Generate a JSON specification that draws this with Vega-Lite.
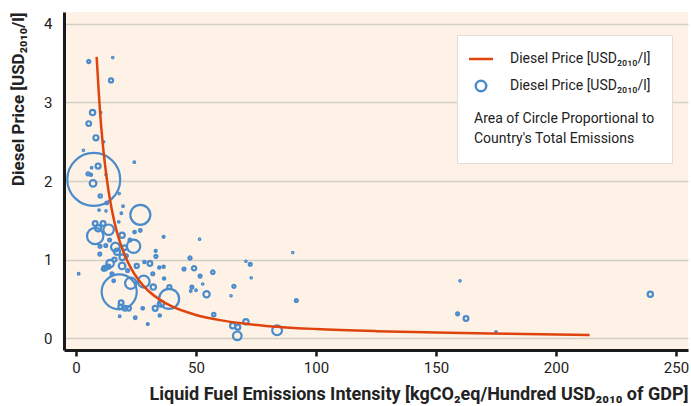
{
  "$schema": "https://vega.github.io/schema/vega-lite/v6.json",
  "width": 624,
  "height": 338,
  "autosize": {"type": "none"},
  "padding": {"left": 64, "top": 12, "right": 3, "bottom": 56},
  "background": "white",
  "config": {
    "font": "Roboto, Liberation Sans, sans-serif",
    "view": {"fill": "#fdf2e5", "stroke": null},
    "axis": {"labelFont": "Roboto, sans-serif", "titleFont": "Roboto, sans-serif", "labelColor": "#222", "titleColor": "#222"}
  },
  "datasets": {
    "curve": [
      {"intensity": 8.6, "price": 3.58}, {"intensity": 9.5, "price": 3.12}, {"intensity": 10, "price": 2.89},
      {"intensity": 11, "price": 2.52}, {"intensity": 12, "price": 2.23}, {"intensity": 13, "price": 1.99},
      {"intensity": 14, "price": 1.79}, {"intensity": 16, "price": 1.48}, {"intensity": 18, "price": 1.25},
      {"intensity": 20, "price": 1.08}, {"intensity": 23, "price": 0.885}, {"intensity": 26, "price": 0.744},
      {"intensity": 30, "price": 0.607}, {"intensity": 35, "price": 0.488}, {"intensity": 40, "price": 0.404},
      {"intensity": 50, "price": 0.296}, {"intensity": 60, "price": 0.23}, {"intensity": 70, "price": 0.186},
      {"intensity": 85, "price": 0.143}, {"intensity": 100, "price": 0.117}, {"intensity": 125, "price": 0.09},
      {"intensity": 150, "price": 0.073}, {"intensity": 180, "price": 0.057}, {"intensity": 214, "price": 0.04}
    ],
    "countries": [
      {"intensity": 5.3, "price": 3.52, "emissions": 0.35},
      {"intensity": 15.3, "price": 3.57, "emissions": 0.07},
      {"intensity": 14.6, "price": 3.28, "emissions": 0.6},
      {"intensity": 6.9, "price": 2.87, "emissions": 1.0},
      {"intensity": 10.3, "price": 2.87, "emissions": 0.07},
      {"intensity": 5.3, "price": 2.73, "emissions": 0.8},
      {"intensity": 8.3, "price": 2.55, "emissions": 0.9},
      {"intensity": 11.5, "price": 2.5, "emissions": 0.07},
      {"intensity": 3.1, "price": 2.39, "emissions": 0.07},
      {"intensity": 24.3, "price": 2.24, "emissions": 0.1},
      {"intensity": 7.4, "price": 2.02, "emissions": 100},
      {"intensity": 9.2, "price": 2.19, "emissions": 0.9},
      {"intensity": 6.5, "price": 2.17, "emissions": 0.1},
      {"intensity": 5.0, "price": 2.09, "emissions": 0.35},
      {"intensity": 6.2, "price": 2.08, "emissions": 0.2},
      {"intensity": 7.1, "price": 1.97, "emissions": 1.6},
      {"intensity": 12.5, "price": 2.08, "emissions": 0.07},
      {"intensity": 10.1, "price": 1.81, "emissions": 0.4},
      {"intensity": 18.0, "price": 1.84, "emissions": 0.07},
      {"intensity": 12.8, "price": 1.72, "emissions": 0.25},
      {"intensity": 9.6, "price": 1.63, "emissions": 0.1},
      {"intensity": 19.6, "price": 1.68, "emissions": 0.1},
      {"intensity": 18.9, "price": 1.59, "emissions": 0.1},
      {"intensity": 26.8, "price": 1.57, "emissions": 14.3},
      {"intensity": 17.8, "price": 1.48, "emissions": 0.1},
      {"intensity": 8.0, "price": 1.46, "emissions": 0.8},
      {"intensity": 11.3, "price": 1.46, "emissions": 0.8},
      {"intensity": 9.2, "price": 1.4, "emissions": 1.4},
      {"intensity": 8.0, "price": 1.3, "emissions": 9.6},
      {"intensity": 13.6, "price": 1.38, "emissions": 3.9},
      {"intensity": 19.2, "price": 1.31, "emissions": 1.0},
      {"intensity": 24.4, "price": 1.35, "emissions": 0.25},
      {"intensity": 26.8, "price": 1.37, "emissions": 0.25},
      {"intensity": 16.4, "price": 1.16, "emissions": 2.7},
      {"intensity": 24.0, "price": 1.17, "emissions": 6.4},
      {"intensity": 17.1, "price": 1.1, "emissions": 1.4},
      {"intensity": 10.0, "price": 1.17, "emissions": 0.3},
      {"intensity": 12.4, "price": 1.18, "emissions": 0.3},
      {"intensity": 9.9, "price": 1.07, "emissions": 0.3},
      {"intensity": 36.5, "price": 1.29, "emissions": 0.15},
      {"intensity": 51.5, "price": 1.26, "emissions": 0.07},
      {"intensity": 33.2, "price": 1.11, "emissions": 0.15},
      {"intensity": 33.3, "price": 1.04, "emissions": 0.35},
      {"intensity": 19.3, "price": 1.03, "emissions": 1.2},
      {"intensity": 14.2, "price": 0.95, "emissions": 2.0},
      {"intensity": 19.2, "price": 0.92, "emissions": 1.6},
      {"intensity": 11.4, "price": 0.88, "emissions": 0.35},
      {"intensity": 13.5, "price": 0.91, "emissions": 0.6},
      {"intensity": 21.5, "price": 0.86, "emissions": 0.3},
      {"intensity": 25.3, "price": 0.92, "emissions": 0.6},
      {"intensity": 30.8, "price": 0.95, "emissions": 0.8},
      {"intensity": 28.5, "price": 0.97, "emissions": 0.2},
      {"intensity": 36.5, "price": 0.91, "emissions": 0.2},
      {"intensity": 34.7, "price": 0.9, "emissions": 0.2},
      {"intensity": 47.5, "price": 1.02, "emissions": 0.35},
      {"intensity": 45.0, "price": 0.88, "emissions": 0.3},
      {"intensity": 49.2, "price": 0.89, "emissions": 0.7},
      {"intensity": 51.7, "price": 0.79, "emissions": 0.3},
      {"intensity": 57.0, "price": 0.84, "emissions": 0.45},
      {"intensity": 1.1, "price": 0.82, "emissions": 0.1},
      {"intensity": 22.8, "price": 0.7, "emissions": 4.5},
      {"intensity": 28.2, "price": 0.72, "emissions": 5.0},
      {"intensity": 18.0, "price": 0.59, "emissions": 44},
      {"intensity": 32.2, "price": 0.65, "emissions": 1.0},
      {"intensity": 38.8, "price": 0.5, "emissions": 14.3},
      {"intensity": 35.4, "price": 0.44, "emissions": 1.4},
      {"intensity": 33.0, "price": 0.38, "emissions": 0.9},
      {"intensity": 48.3, "price": 0.65, "emissions": 0.3},
      {"intensity": 47.8, "price": 0.6, "emissions": 0.1},
      {"intensity": 50.0, "price": 0.61, "emissions": 0.1},
      {"intensity": 52.8, "price": 0.69, "emissions": 0.07},
      {"intensity": 54.4, "price": 0.56, "emissions": 1.4},
      {"intensity": 57.4, "price": 0.3, "emissions": 0.4},
      {"intensity": 18.8, "price": 0.45, "emissions": 0.8},
      {"intensity": 20.4, "price": 0.38, "emissions": 0.8},
      {"intensity": 18.5, "price": 0.4, "emissions": 0.6},
      {"intensity": 22.0, "price": 0.38, "emissions": 0.7},
      {"intensity": 27.8, "price": 0.38, "emissions": 0.25},
      {"intensity": 24.7, "price": 0.26, "emissions": 0.25},
      {"intensity": 18.2, "price": 0.28, "emissions": 0.1},
      {"intensity": 29.9, "price": 0.18, "emissions": 0.15},
      {"intensity": 34.9, "price": 0.29, "emissions": 0.2},
      {"intensity": 38.9, "price": 0.65, "emissions": 0.6},
      {"intensity": 65.8, "price": 0.66, "emissions": 0.35},
      {"intensity": 64.6, "price": 0.54, "emissions": 0.07},
      {"intensity": 70.8, "price": 0.98, "emissions": 0.07},
      {"intensity": 72.6, "price": 0.94, "emissions": 0.3},
      {"intensity": 73.0, "price": 0.77, "emissions": 0.07},
      {"intensity": 90.3, "price": 1.09, "emissions": 0.07},
      {"intensity": 91.8, "price": 0.48, "emissions": 0.3},
      {"intensity": 65.3, "price": 0.16, "emissions": 1.0},
      {"intensity": 67.4, "price": 0.14, "emissions": 0.9},
      {"intensity": 67.2, "price": 0.03, "emissions": 2.7},
      {"intensity": 70.8, "price": 0.21, "emissions": 1.0},
      {"intensity": 83.8, "price": 0.1, "emissions": 3.4},
      {"intensity": 160.0, "price": 0.73, "emissions": 0.07},
      {"intensity": 159.0, "price": 0.31, "emissions": 0.3},
      {"intensity": 162.5, "price": 0.25, "emissions": 0.8},
      {"intensity": 175.0, "price": 0.08, "emissions": 0.1},
      {"intensity": 239.3, "price": 0.56, "emissions": 1.0},
      {"intensity": 15.7, "price": 0.73, "emissions": 0.25},
      {"intensity": 12.0, "price": 0.89, "emissions": 0.8},
      {"intensity": 16.0, "price": 1.0, "emissions": 0.6},
      {"intensity": 21.0, "price": 1.05, "emissions": 0.3},
      {"intensity": 36.7, "price": 0.76, "emissions": 0.2},
      {"intensity": 32.0, "price": 0.82, "emissions": 0.3},
      {"intensity": 14.0, "price": 1.25, "emissions": 0.3},
      {"intensity": 22.5, "price": 1.25, "emissions": 0.3},
      {"intensity": 20.2, "price": 1.15, "emissions": 0.8},
      {"intensity": 15.0, "price": 0.82, "emissions": 0.3},
      {"intensity": 12.5, "price": 1.62, "emissions": 0.07}
    ]
  },
  "encoding": {
    "x": {
      "field": "intensity", "type": "quantitative",
      "scale": {"domain": [-5, 255], "nice": false, "zero": false},
      "axis": {
        "values": [0, 50, 100, 150, 200, 250],
        "title": "Liquid Fuel Emissions Intensity [kgCO₂eq/Hundred USD₂₀₁₀ of GDP]",
        "titleFontSize": 18, "titleFontWeight": "bold", "titleAnchor": "end", "titlePadding": 10,
        "labelFontSize": 15, "labelPadding": 4, "grid": false,
        "domainColor": "#1a1a1a", "domainWidth": 3,
        "tickColor": "#1a1a1a", "tickWidth": 2.5, "tickSize": 6
      }
    },
    "y": {
      "field": "price", "type": "quantitative",
      "scale": {"domain": [-0.15, 4.15], "nice": false, "zero": false},
      "axis": {
        "values": [0, 1, 2, 3, 4],
        "title": "Diesel Price [USD₂₀₁₀/l]",
        "titleFontSize": 17, "titleFontWeight": "bold", "titleAnchor": "end", "titlePadding": 16,
        "labelFontSize": 15, "labelPadding": 12, "ticks": false,
        "grid": true, "gridColor": "#d3cec8", "gridWidth": 1.5,
        "domainColor": "#1a1a1a", "domainWidth": 3
      }
    }
  },
  "layer": [
    {
      "data": {"name": "countries"},
      "mark": {"type": "point", "shape": "circle", "filled": false, "strokeWidth": 2.2, "opacity": 1},
      "encoding": {
        "size": {"field": "emissions", "type": "quantitative", "scale": {"domain": [0, 100], "range": [0, 2800]}, "legend": null},
        "stroke": {"datum": "Circle", "type": "nominal", "scale": {"domain": ["Line", "Circle"], "range": ["#e0440e", "#4a8bcb"]}}
      }
    },
    {
      "data": {"name": "curve"},
      "mark": {"type": "line", "strokeWidth": 2.5, "interpolate": "monotone"},
      "encoding": {
        "stroke": {
          "datum": "Line", "type": "nominal",
          "scale": {"domain": ["Line", "Circle"], "range": ["#e0440e", "#4a8bcb"]},
          "legend": {
            "orient": "none", "legendX": 393, "legendY": 23,
            "title": ["Area of Circle Proportional to", "Country's Total Emissions"],
            "titleOrient": "bottom", "titleAnchor": "start", "titleFontWeight": "normal",
            "titleFontSize": 14, "titleLineHeight": 20, "titlePadding": 16, "titleColor": "#222", "titleLimit": 400,
            "labelExpr": "'Diesel Price [USD₂₀₁₀/l]'", "labelFontSize": 14, "labelColor": "#222", "labelOffset": 22, "labelLimit": 400,
            "padding": 17, "rowPadding": 9, "fillColor": "white", "strokeColor": "#e2ddd6",
            "encode": {
              "symbols": {
                "update": {
                  "shape": {"signal": "datum.value === 'Line' ? 'stroke' : 'circle'"},
                  "size": {"signal": "datum.value === 'Line' ? 576 : 110"},
                  "strokeWidth": {"value": 2.5},
                  "fill": {"value": "transparent"},
                  "stroke": {"signal": "datum.value === 'Line' ? '#e0440e' : '#4a8bcb'"}
                }
              }
            }
          }
        }
      }
    }
  ]
}
